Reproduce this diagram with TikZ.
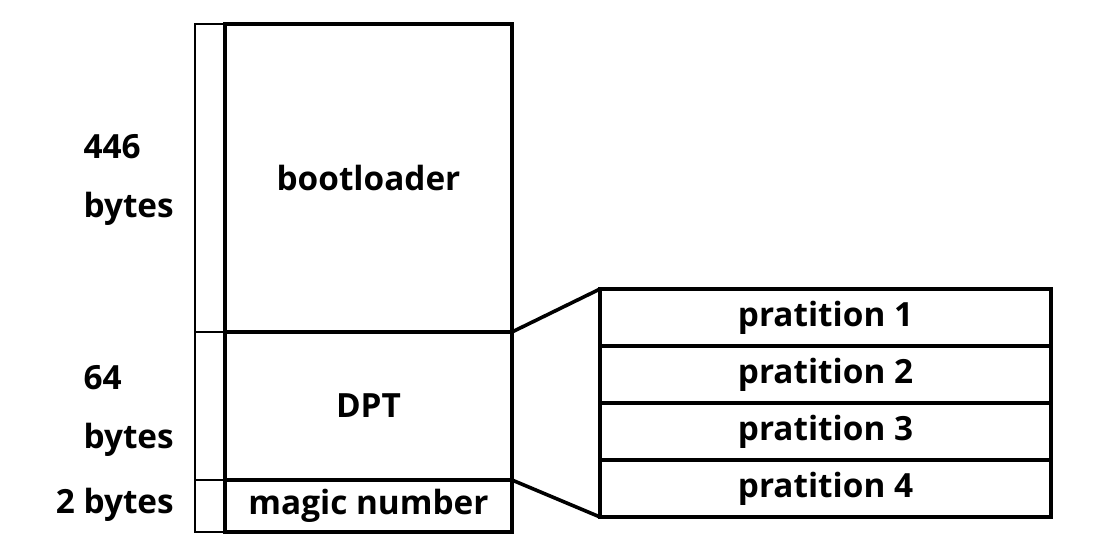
\documentclass[tikz,border=0pt]{standalone}
\usepackage{fontspec}
\setmainfont{Open Sans}
\usetikzlibrary{positioning}
\tikzset{
  cell/.style     = {draw, line width=2.7pt, rectangle, inner sep=0pt, outer sep=0pt,
                     minimum width=215.25pt, font=\bfseries\fontsize{25}{30}\selectfont},
  part/.style     = {cell, minimum width=338.25pt, minimum height=42.75pt},
  bracket/.style  = {line width=1.8pt},
  sizelabel/.style= {anchor=east, align=left, inner sep=0pt,
                     font=\bfseries\fontsize{25}{44}\selectfont},
}
\begin{document}
\begin{tikzpicture}[x=0.75pt,y=-0.75pt]
\useasboundingbox (0,0) rectangle (1111,546);
% MBR sections
\node[cell, anchor=north west, minimum height=231pt] (boot) at (225,24) {bootloader};
\node[cell, minimum height=111pt, below=0pt of boot] (dpt) {DPT};
\node[cell, minimum height=39pt, below=0pt of dpt] (magic) {magic number};
% size bracket
\draw[bracket] (boot.north west) -- ++(-30,0) |- (magic.south west);
\draw[bracket] (boot.south west) -- ++(-30,0);
\draw[bracket] (dpt.south west) -- ++(-30,0);
\node[sizelabel] (sboot) at (174,180) {446\\bytes};
\node[sizelabel] (sdpt) at (174,411) {64\\bytes};
\node[sizelabel] (smagic) at (174,505) {2 bytes};
% partition table
\foreach \i in {1,...,4}
  \node[part] (p\i) at (825.5,260.5+57*\i) {pratition \i};
\draw[line width=2.7pt] (dpt.north east) -- (p1.north west);
\draw[line width=2.7pt] (dpt.south east) -- (p4.south west);
\end{tikzpicture}
\end{document}
